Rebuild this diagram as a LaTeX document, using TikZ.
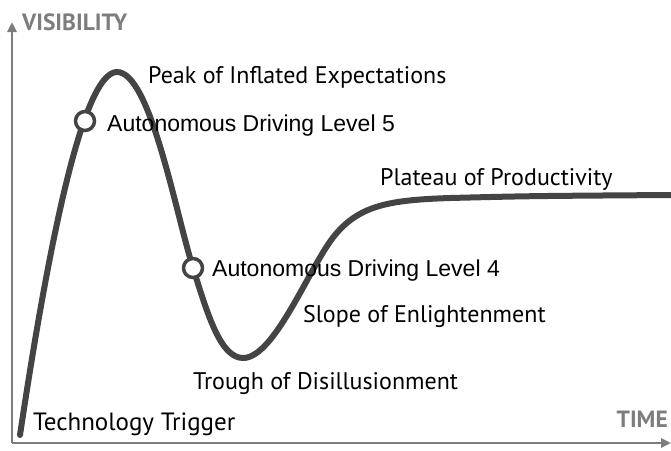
\documentclass[tikz,border=0pt]{standalone}
\usepackage{fontspec}
\setmainfont{PT Sans}
\newfontfamily\arialf{Liberation Sans}
\usetikzlibrary{arrows.meta}
\definecolor{curvegray}{RGB}{68,68,68}
\definecolor{axisgray}{RGB}{125,125,125}
\tikzset{
  curve/.style={draw=curvegray, line width=6pt, line cap=round, line join=round},
  axis/.style={draw=axisgray, line width=2.5pt, -{Triangle[length=10pt,width=9pt]}},
  axislabel/.style={text=axisgray, font=\fontsize{23.5}{23.5}\selectfont\bfseries, inner sep=0pt},
  phase/.style={font=\fontsize{24}{24}\selectfont, text=black, inner sep=0pt, anchor=base west},
  level/.style={font=\arialf\fontsize{23}{23}\selectfont, text=black, inner sep=0pt, anchor=base west},
  marker/.style={circle, draw=curvegray, fill=white, line width=3.5pt, minimum size=19pt, inner sep=0pt}
}
\begin{document}
\begin{tikzpicture}[x=1pt,y=-1pt]
\useasboundingbox (0,0) rectangle (671,450);
\coordinate (origin) at (12,443);
\coordinate (ytop) at (12,22);
\coordinate (xend) at (671,443);
\draw[axis] (origin) -- (ytop);
\draw[axis] (origin) -- (xend);
\coordinate (c0) at (20,435);
\coordinate (cpeak) at (117,72);
\coordinate (cl4) at (193,268);
\coordinate (ctrough) at (243,358);
\coordinate (crise) at (335,235);
\coordinate (cplat) at (450,198);
\coordinate (cend) at (671,195);
\draw[curve] (c0) .. controls (47,255) and (82,72) .. (cpeak)
  .. controls (150,72) and (175,210) .. (cl4)
  .. controls (207,312) and (220,358) .. (ctrough)
  .. controls (275,358) and (310,265) .. (crise)
  .. controls (360,205) and (390,200) .. (cplat)
  .. controls (530,196) .. (cend);
\node[marker] (m5) at (85,121) {};
\node[marker] (m4) at (193,268) {};
\node[axislabel, anchor=base west] (vis) at (22,30) {VISIBILITY};
\node[axislabel, anchor=base east] (time) at (668,427) {TIME};
\node[phase] (peak) at (148,83) {Peak of Inflated Expectations};
\node[level] (l5) at (107,131) {Autonomous Driving Level 5};
\node[phase] (plat) at (380,185) {Plateau of Productivity};
\node[level] (l4) at (212,276) {Autonomous Driving Level 4};
\node[phase] (slope) at (303,322) {Slope of Enlightenment};
\node[phase] (trough) at (193,389) {Trough of Disillusionment};
\node[phase, font=\fontsize{25}{25}\selectfont] (trig) at (33,430) {Technology Trigger};
\end{tikzpicture}
\end{document}
